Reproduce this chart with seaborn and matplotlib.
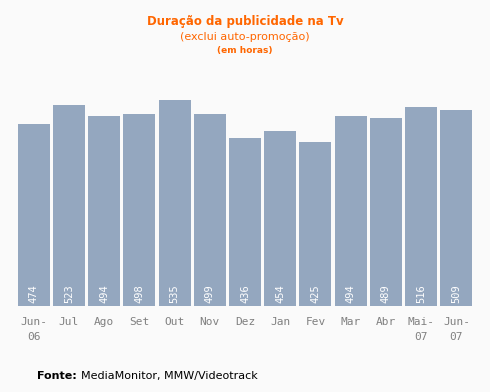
import matplotlib
matplotlib.use("Agg")
import matplotlib.pyplot as plt
import seaborn as sns
import pandas as pd

months = ["Jun-\n06", "Jul", "Ago", "Set", "Out", "Nov", "Dez", "Jan", "Fev", "Mar", "Abr", "Mai-\n07", "Jun-\n07"]
hours = [474, 523, 494, 498, 535, 499, 436, 454, 425, 494, 489, 516, 509]

df = pd.DataFrame({"mes": months, "horas": hours})

sns.set_style("white")
plt.rcParams["font.family"] = ["DejaVu Sans"]
bg = "#fafafa"
fig = plt.figure(figsize=(4.9, 3.92), dpi=100, facecolor=bg)
ax = fig.add_axes([16/490, 1 - 306/392, 458/490, 226/392])
ax.set_facecolor(bg)
sns.barplot(data=df, x="mes", y="horas", color="#94a7bf", width=0.91, saturation=1,
            linewidth=0, ax=ax)
ax.set_ylim(0, 587)
ax.set_xlim(-0.5, len(months) - 0.5)
for s in ax.spines.values():
    s.set_visible(False)
ax.set_yticks([])
ax.set_xlabel("")
ax.set_ylabel("")
ax.tick_params(axis="x", length=0, pad=8, labelsize=8, labelcolor="#808080")
for lbl in ax.get_xticklabels():
    lbl.set_family("DejaVu Sans Mono")
    lbl.set_linespacing(1.6)
    lbl.set_verticalalignment("top")
for i, v in enumerate(hours):
    ax.text(i, 8, str(v), rotation=90, ha="center", va="bottom", color="white",
            fontsize=7.5, family="DejaVu Sans Mono")

fig.text(0.5, 1 - 22/392, "Duração da publicidade na Tv", ha="center", va="center", color="#ff6600", fontsize=8.5, fontweight="bold")
fig.text(0.5, 1 - 37/392, "(exclui auto-promoção)", ha="center", va="center", color="#ff6600", fontsize=8)
fig.text(0.5, 1 - 50/392, "(em horas)", ha="center", va="center", color="#ff6600", fontsize=6.5, fontweight="bold")
t = fig.text(37/490, 1 - 376/392, "Fonte:", ha="left", va="center", color="black", fontsize=8, fontweight="bold")
fig.canvas.draw()
bb = t.get_window_extent()
fig.text((bb.x1 + 4) / 490, 1 - 376/392, "MediaMonitor, MMW/Videotrack", ha="left", va="center", color="black", fontsize=8)
fig.savefig("out.png", dpi=100, facecolor=bg)
